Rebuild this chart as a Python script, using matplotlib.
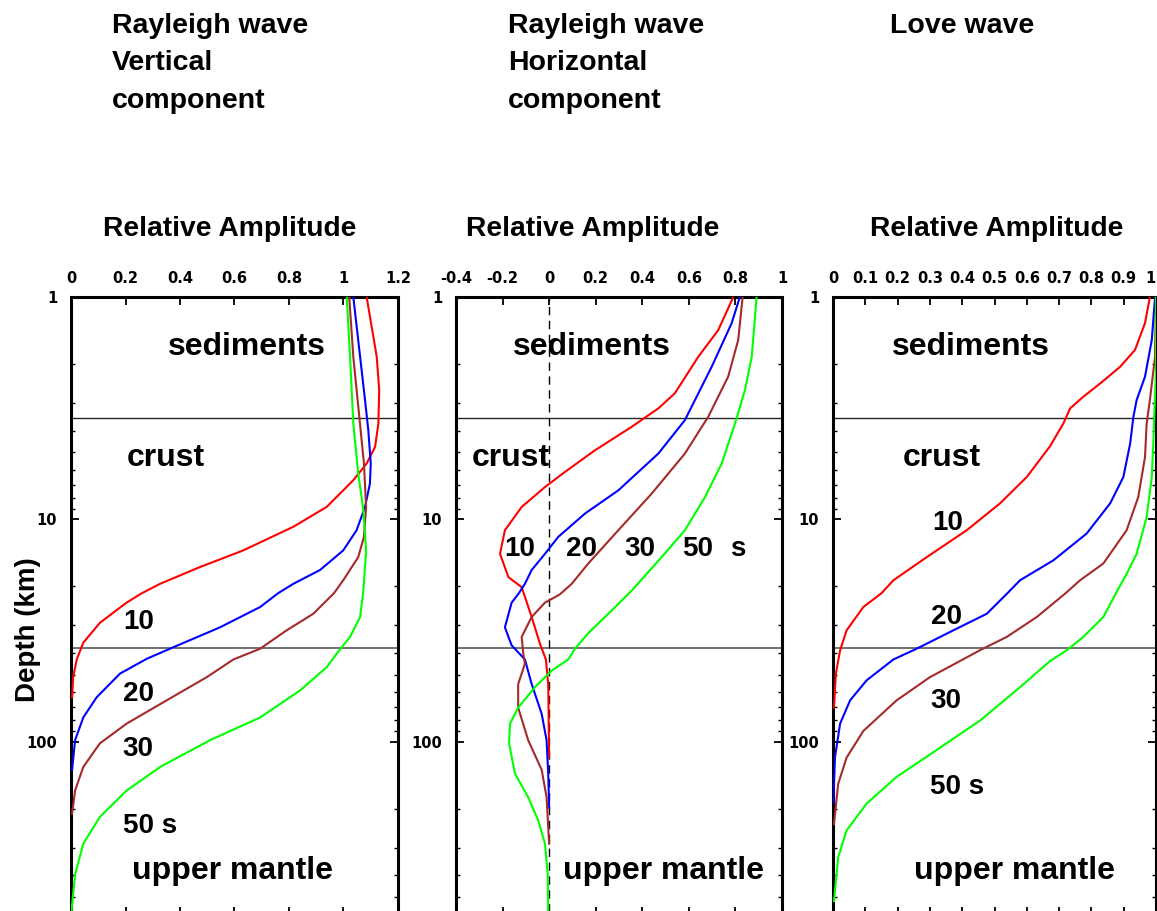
import matplotlib.pyplot as plt
from matplotlib.ticker import LogLocator, NullFormatter, FixedLocator

plt.rcParams['font.family'] = ['Liberation Sans', 'DejaVu Sans']
plt.rcParams['font.weight'] = 'bold'

W, H = 1157, 911

periods = ['10', '20', '30', '50']
colors = ['#ff0000', '#0000ff', '#a52a2a', '#00ff00']

# Rayleigh wave, vertical component
rv_d10 = [1, 1.86, 2.62, 3.71, 4.72, 5.61, 6.67, 8.8, 10.8, 13.8, 16.4, 19.5, 21.5, 23.7, 29.2, 35.9, 42.7, 51.3, 63.2]
rv_a10 = [1.085, 1.122, 1.131, 1.128, 1.116, 1.085, 1.036, 0.938, 0.816, 0.632, 0.473, 0.327, 0.26, 0.204, 0.106, 0.045, 0.021, 0.008, 0.004]
rv_d20 = [1, 1.86, 2.91, 3.97, 5.61, 6.91, 8.8, 11.2, 13.8, 16.9, 19.5, 21.5, 24.8, 30.6, 37.6, 42.4, 49.4, 63.2, 77.9, 98.5, 134]
rv_a20 = [1.036, 1.061, 1.079, 1.091, 1.1, 1.097, 1.079, 1.048, 0.999, 0.914, 0.816, 0.76, 0.694, 0.547, 0.376, 0.278, 0.18, 0.094, 0.045, 0.015, 0.004]
rv_d30 = [1, 1.86, 3.46, 5.61, 8.8, 12.0, 14.8, 18.8, 21.5, 26.6, 31.6, 38.2, 42.7, 51.3, 65.2, 83.0, 101.8, 130, 166, 211]
rv_a30 = [1.021, 1.036, 1.058, 1.075, 1.083, 1.075, 1.054, 0.999, 0.965, 0.889, 0.791, 0.694, 0.596, 0.498, 0.351, 0.204, 0.106, 0.045, 0.015, 0.004]
rv_d50 = [1, 1.86, 3.71, 6.22, 9.1, 13.8, 20.9, 27.5, 33.8, 40.2, 46.3, 58.9, 77.9, 98.5, 130, 166, 218, 288, 396, 555, 600]
rv_a50 = [1.012, 1.024, 1.036, 1.054, 1.073, 1.083, 1.073, 1.061, 1.024, 0.975, 0.938, 0.84, 0.694, 0.51, 0.327, 0.204, 0.106, 0.045, 0.015, 0.003, 0.002]

# Rayleigh wave, horizontal component
rh_d10 = [1, 1.41, 1.86, 2.71, 3.17, 3.84, 4.89, 6.12, 7.16, 8.8, 11.2, 14.3, 18.2, 20.2, 22.0, 27.5, 36.4, 42.7, 55.1, 118]
rh_a10 = [0.791, 0.726, 0.64, 0.54, 0.469, 0.354, 0.197, 0.068, -0.018, -0.118, -0.19, -0.211, -0.175, -0.118, -0.106, -0.075, -0.039, -0.014, -0.004, 0.0]
rh_d20 = [1, 1.31, 2.06, 3.58, 5.06, 7.41, 9.42, 12.0, 14.3, 16.9, 19.5, 21.5, 23.7, 30.6, 36.9, 42.7, 55.1, 75.0, 98.5, 139, 198]
rh_a20 = [0.819, 0.784, 0.698, 0.583, 0.469, 0.297, 0.154, 0.039, -0.018, -0.075, -0.104, -0.13, -0.161, -0.19, -0.161, -0.104, -0.075, -0.032, -0.011, -0.004, 0.0]
rh_d30 = [1, 1.56, 2.28, 3.46, 5.06, 7.67, 11.2, 15.8, 19.5, 21.8, 23.7, 27.5, 33.8, 40.2, 44.6, 55.1, 70.3, 98.5, 134, 178, 288]
rh_a30 = [0.831, 0.812, 0.769, 0.683, 0.583, 0.44, 0.297, 0.168, 0.097, 0.045, -0.018, -0.075, -0.118, -0.111, -0.104, -0.133, -0.133, -0.09, -0.032, -0.011, 0.0]
rh_d50 = [1, 1.86, 2.62, 3.71, 5.61, 7.95, 11.2, 14.8, 20.9, 25.7, 32.5, 38.2, 42.7, 47.9, 56.9, 70.3, 83.0, 101.8, 139, 178, 226, 288, 396, 600]
rh_a50 = [0.891, 0.87, 0.841, 0.798, 0.741, 0.669, 0.583, 0.483, 0.355, 0.269, 0.168, 0.111, 0.082, 0.011, -0.061, -0.133, -0.168, -0.172, -0.147, -0.09, -0.047, -0.018, -0.006, -0.004]

# Love wave
lv_d10 = [1, 1.31, 1.73, 2.06, 2.45, 2.81, 3.17, 3.71, 4.69, 6.45, 8.48, 11.2, 14.8, 18.8, 21.5, 24.8, 31.6, 38.8, 49.4, 70.3]
lv_a10 = [0.981, 0.966, 0.935, 0.889, 0.827, 0.775, 0.734, 0.713, 0.672, 0.6, 0.517, 0.414, 0.29, 0.187, 0.15, 0.094, 0.042, 0.022, 0.009, 0.003]
lv_d20 = [1, 1.56, 2.28, 2.91, 3.46, 4.56, 6.45, 8.48, 11.6, 15.3, 18.8, 21.5, 26.6, 31.6, 38.2, 42.7, 53.0, 65.2, 83.0, 118, 190]
lv_a20 = [0.997, 0.987, 0.966, 0.94, 0.93, 0.92, 0.899, 0.858, 0.785, 0.682, 0.579, 0.54, 0.476, 0.372, 0.259, 0.187, 0.104, 0.053, 0.022, 0.006, 0.001]
lv_d30 = [1, 1.86, 2.91, 3.71, 5.25, 7.95, 11.2, 15.8, 18.8, 21.5, 27.5, 33.8, 38.8, 43.4, 51.3, 65.2, 89.5, 118, 155, 235]
lv_a30 = [1.0, 0.997, 0.981, 0.971, 0.966, 0.945, 0.909, 0.837, 0.765, 0.72, 0.631, 0.538, 0.455, 0.393, 0.3, 0.197, 0.094, 0.042, 0.016, 0.003]
lv_d50 = [1, 2.13, 4.41, 6.45, 9.76, 14.3, 17.6, 21.5, 27.5, 33.8, 38.8, 43.4, 56.9, 80.4, 109, 144, 190, 251, 331, 522]
lv_a50 = [1.0, 1.0, 0.992, 0.987, 0.971, 0.94, 0.909, 0.876, 0.837, 0.775, 0.724, 0.672, 0.579, 0.455, 0.321, 0.197, 0.104, 0.042, 0.016, 0.003]

sed_base = 3.5
moho = 38

panels = [
    dict(left=71, width=327, xlim=(0, 1.2), xticks=[0, 0.2, 0.4, 0.6, 0.8, 1, 1.2],
         depths=[rv_d10, rv_d20, rv_d30, rv_d50], amps=[rv_a10, rv_a20, rv_a30, rv_a50]),
    dict(left=456, width=326, xlim=(-0.4, 1.0), xticks=[-0.4, -0.2, 0, 0.2, 0.4, 0.6, 0.8, 1],
         depths=[rh_d10, rh_d20, rh_d30, rh_d50], amps=[rh_a10, rh_a20, rh_a30, rh_a50]),
    dict(left=833, width=323, xlim=(0, 1.0), xticks=[0, 0.1, 0.2, 0.3, 0.4, 0.5, 0.6, 0.7, 0.8, 0.9, 1],
         depths=[lv_d10, lv_d20, lv_d30, lv_d50], amps=[lv_a10, lv_a20, lv_a30, lv_a50]),
]

fig = plt.figure(figsize=(W / 100, H / 100), dpi=100)


def fx(x):
    return x / W


def fy(y):
    return 1 - y / H


axes = []
for p in panels:
    ax = fig.add_axes([fx(p['left']), -0.004, p['width'] / W, 0.678])
    ax.set_yscale('log')
    ax.set_ylim(600, 1)
    ax.set_xlim(*p['xlim'])
    ax.axhline(sed_base, color='0.15', lw=1, zorder=1)
    ax.axhline(moho, color='0.4', lw=1.3, zorder=1)
    for d, a, c in zip(p['depths'], p['amps'], colors):
        ax.plot(a, d, color=c, lw=1.5, zorder=3)
    ax.xaxis.set_major_locator(FixedLocator(p['xticks']))
    ax.set_xticklabels(['%g' % t for t in p['xticks']])
    ax.yaxis.set_major_locator(FixedLocator([1, 10, 100]))
    ax.set_yticklabels(['1', '10', '100'])
    ax.yaxis.set_minor_locator(LogLocator(base=10, subs=range(2, 10)))
    ax.yaxis.set_minor_formatter(NullFormatter())
    ax.tick_params(axis='x', which='major', direction='in', top=True, bottom=True,
                   labeltop=True, labelbottom=False, length=6, width=1.3, pad=8)
    ax.tick_params(axis='y', which='major', direction='in', left=True, right=True,
                   length=6, width=1.3, pad=10)
    ax.tick_params(axis='y', which='minor', direction='in', left=True, right=True,
                   length=3, width=1)
    for lab in ax.get_xticklabels() + ax.get_yticklabels():
        lab.set_fontweight('bold')
        lab.set_fontfamily('DejaVu Sans')
        lab.set_fontsize(10.5)
    for s in ax.spines.values():
        s.set_linewidth(2.2)
    axes.append(ax)

ax1, ax2, ax3 = axes
ax2.axvline(0, color='black', lw=1, ls=(0, (6, 4)), zorder=2)
# keep the last tick label of the right panel inside the figure
ax3.get_xticklabels()[-1].set_horizontalalignment('right')

big = dict(fontsize=23, fontweight='bold', ha='center', va='center')
per = dict(fontsize=20, fontweight='bold', ha='left', va='center')
cen = dict(fontsize=20, fontweight='bold', ha='center', va='center')

ax1.text(0.646, 1.67, 'sediments', **big)
ax1.text(0.349, 5.3, 'crust', **big)
ax1.text(0.594, 380, 'upper mantle', **big)
ax1.text(0.19, 29, periods[0], **per)
ax1.text(0.19, 61, periods[1], **per)
ax1.text(0.19, 108, periods[2], **per)
ax1.text(0.19, 240, periods[3] + ' s', **per)

ax2.text(0.184, 1.67, 'sediments', **big)
ax2.text(-0.164, 5.3, 'crust', **big)
ax2.text(0.489, 380, 'upper mantle', **big)
for x, s in zip([-0.125, 0.141, 0.390, 0.639, 0.811], periods + ['s']):
    ax2.text(x, 13.6, s, **cen)

ax3.text(0.427, 1.67, 'sediments', **big)
ax3.text(0.337, 5.3, 'crust', **big)
ax3.text(0.563, 380, 'upper mantle', **big)
ax3.text(0.356, 10.4, periods[0], **cen)
ax3.text(0.350, 27.6, periods[1], **cen)
ax3.text(0.350, 65.7, periods[2], **cen)
ax3.text(0.384, 160, periods[3] + ' s', **cen)

# titles
for x, lines in [(112, ['Rayleigh wave', 'Vertical', 'component']),
                 (508, ['Rayleigh wave', 'Horizontal', 'component']),
                 (890, ['Love wave'])]:
    for i, t in enumerate(lines):
        fig.text(fx(x), fy(33 + i * 37.5), t, fontsize=20.5, fontweight='bold',
                 ha='left', va='baseline')

for x in [230, 593, 997]:
    fig.text(fx(x), fy(236), 'Relative Amplitude', fontsize=20.3, fontweight='bold',
             ha='center', va='baseline')

fig.text(fx(28), fy(630), 'Depth (km)', fontsize=20, fontweight='bold',
         rotation=90, ha='center', va='center')

fig.savefig('out.png', dpi=100)
